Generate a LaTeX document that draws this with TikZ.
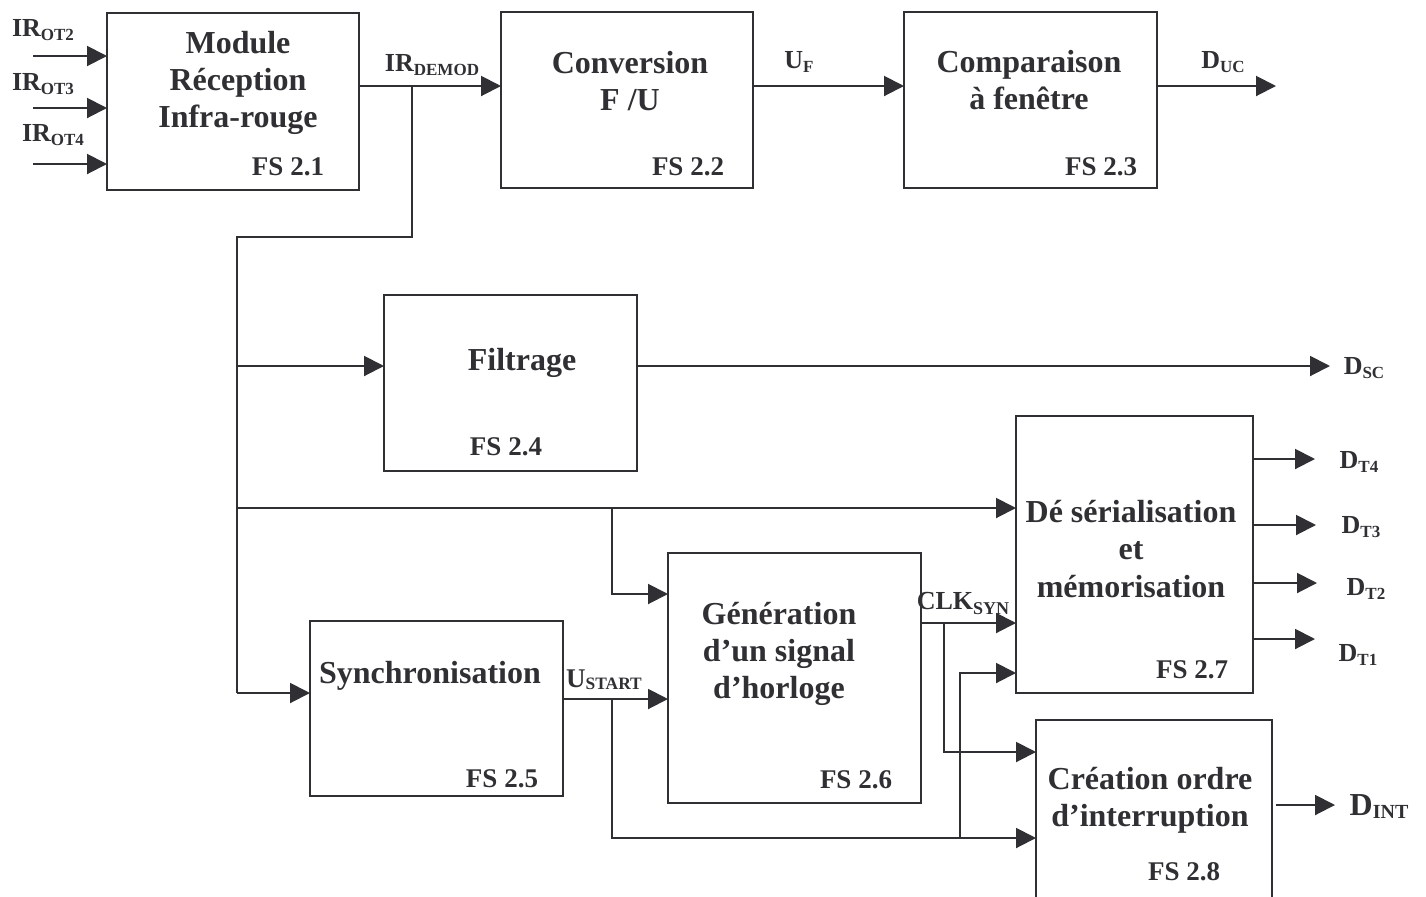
\documentclass[tikz,border=0pt]{standalone}
\usepackage{fontspec}
\setmainfont{Liberation Serif}
\usetikzlibrary{arrows.meta}
\definecolor{ink}{RGB}{48,48,52}
% signal name: main letters, then a smaller lowered index
\newcommand{\sgl}[5]{{\fontsize{#1}{#1}\selectfont #3}\raisebox{-#5}{\fontsize{#2}{#2}\selectfont #4}}

\begin{document}
\begin{tikzpicture}[x=0.5pt,y=-0.5pt,
  box/.style={draw=ink,line width=1pt,inner sep=0pt,outer sep=0pt,anchor=north west},
  title/.style={text=ink,font=\fontsize{16}{18.6}\selectfont\bfseries,align=center,inner sep=0pt},
  tag/.style={text=ink,font=\fontsize{13.5}{14}\selectfont\bfseries,inner sep=0pt},
  sig/.style={text=ink,font=\bfseries,inner sep=0pt},
  wire/.style={draw=ink,line width=1pt},
  arr/.style={wire,-{Triangle[length=10pt,width=10pt]}}]

\useasboundingbox (0,0) rectangle (1426,896);
\fill[white] (0,0) rectangle (1426,896);
\clip (0,0) rectangle (1426,896);

% function blocks
\node[box,minimum width=126pt,minimum height=88.5pt] (b1) at (107,13) {};
\node[box,minimum width=126pt,minimum height=88pt] (b2) at (501,12) {};
\node[box,minimum width=126.5pt,minimum height=88pt] (b3) at (904,12) {};
\node[box,minimum width=126.5pt,minimum height=88pt] (b4) at (384,295) {};
\node[box,minimum width=126.5pt,minimum height=87.5pt] (b5) at (310,621) {};
\node[box,minimum width=126.5pt,minimum height=125pt] (b6) at (668,553) {};
\node[box,minimum width=118.5pt,minimum height=138.5pt] (b7) at (1016,416) {};
\node[box,minimum width=118pt,minimum height=100pt] (b8) at (1036,720) {};

% block titles and numbers
\node[title] (t1) at (238,83) {Module\\Réception\\Infra-rouge};
\node[tag] (f1) at (288,167) {FS 2.1};
\node[title] (t2) at (630,81) {Conversion\\F /U};
\node[tag] (f2) at (688,167) {FS 2.2};
\node[title] (t3) at (1029,80) {Comparaison\\à fenêtre};
\node[tag] (f3) at (1101,167) {FS 2.3};
\node[title] (t4) at (522,363) {Filtrage};
\node[tag] (f4) at (506,447) {FS 2.4};
\node[title] (t5) at (430,676) {Synchronisation};
\node[tag] (f5) at (502,779) {FS 2.5};
\node[title] (t6) at (779,654) {Génération\\d’un signal\\d’horloge};
\node[tag] (f6) at (856,780) {FS 2.6};
\node[title] (t7) at (1131,549) {Dé sérialisation\\et\\mémorisation};
\node[tag] (f7) at (1192,670) {FS 2.7};
\node[title] (t8) at (1150,800) {Création ordre\\d’interruption};
\node[tag] (f8) at (1184,872) {FS 2.8};

% signal rows, junctions and free ends
\coordinate (in2) at (33,56);
\coordinate (in3) at (33,108);
\coordinate (in4) at (33,164);
\coordinate (rIR) at (0,86);
\coordinate (j1) at (412,86);
\coordinate (oUC) at (1276,86);
\coordinate (tTop) at (237,237);
\coordinate (tFil) at (237,366);
\coordinate (tDes) at (237,508);
\coordinate (tSyn) at (237,693);
\coordinate (oSC) at (1330,366);
\coordinate (jG) at (612,508);
\coordinate (rG) at (0,594);
\coordinate (rU) at (0,699);
\coordinate (jU) at (612,699);
\coordinate (rB) at (0,838);
\coordinate (jU2) at (960,838);
\coordinate (rS) at (0,673);
\coordinate (rC) at (0,623);
\coordinate (jC) at (944,623);
\coordinate (rI) at (0,752);
\coordinate (oT4) at (1315,459);
\coordinate (oT3) at (1316,525);
\coordinate (oT2) at (1317,583);
\coordinate (oT1) at (1315,639);
\coordinate (oINT) at (1335,805);

% inputs of the infrared receiver
\draw[arr] (in2) -- (in2 -| b1.west);
\draw[arr] (in3) -- (in3 -| b1.west);
\draw[arr] (in4) -- (in4 -| b1.west);

% upper chain
\draw[arr] (b1.east |- rIR) -- (b2.west |- rIR);
\draw[arr] (b2.east |- rIR) -- (b3.west |- rIR);
\draw[arr] (b3.east |- rIR) -- (oUC);

% demodulated signal distribution
\draw[wire] (j1) |- (tTop) -- (tSyn);
\draw[arr] (tFil) -- (tFil -| b4.west);
\draw[arr] (b4.east |- tFil) -- (oSC);
\draw[arr] (tDes) -- (tDes -| b7.west);
\draw[arr] (jG) |- (b6.west |- rG);
\draw[arr] (tSyn) -- (tSyn -| b5.west);

% start pulse
\draw[arr] (b5.east |- rU) -- (b6.west |- rU);
\draw[arr] (jU) |- (b8.west |- rB);
\draw[arr] (jU2) |- (b7.west |- rS);

% synchronised clock
\draw[arr] (b6.east |- rC) -- (b7.west |- rC);
\draw[arr] (jC) |- (b8.west |- rI);

% outputs
\draw[arr] (b7.east |- oT4) -- (oT4);
\draw[arr] (b7.east |- oT3) -- (oT3);
\draw[arr] (b7.east |- oT2) -- (oT2);
\draw[arr] (b7.east |- oT1) -- (oT1);
\draw[arr,shorten <=2pt] (b8.east |- oINT) -- (oINT);

% signal names
\node[sig] (lo2) at (43,30) {\sgl{13}{8.5}{IR}{OT2}{2pt}};
\node[sig] (lo3) at (43,84) {\sgl{13}{8.5}{IR}{OT3}{2pt}};
\node[sig] (lo4) at (53,135) {\sgl{13}{8.5}{IR}{OT4}{2pt}};
\node[sig] (ldm) at (432,65) {\sgl{13}{8.5}{IR}{DEMOD}{2pt}};
\node[sig] (luf) at (799,62) {\sgl{13}{8.5}{U}{F}{2pt}};
\node[sig] (luc) at (1223,62) {\sgl{13}{8.5}{D}{UC}{2pt}};
\node[sig] (lsc) at (1364,368) {\sgl{13}{8.5}{D}{SC}{2pt}};
\node[sig] (lt4) at (1359,462) {\sgl{13}{8.5}{D}{T4}{2pt}};
\node[sig] (lt3) at (1361,527) {\sgl{13}{8.5}{D}{T3}{2pt}};
\node[sig] (lt2) at (1366,589) {\sgl{13}{8.5}{D}{T2}{2pt}};
\node[sig] (lt1) at (1358,655) {\sgl{13}{8.5}{D}{T1}{2pt}};
\node[sig] (lin) at (1379,807) {\sgl{16}{10}{D}{INT}{1.5pt}};
\node[sig] (lck) at (963,603) {\sgl{13}{9}{CLK}{SYN}{2.5pt}};
\node[sig] (lst) at (604,680) {\sgl{13.5}{8.7}{U}{START}{1pt}};
\end{tikzpicture}
\end{document}
